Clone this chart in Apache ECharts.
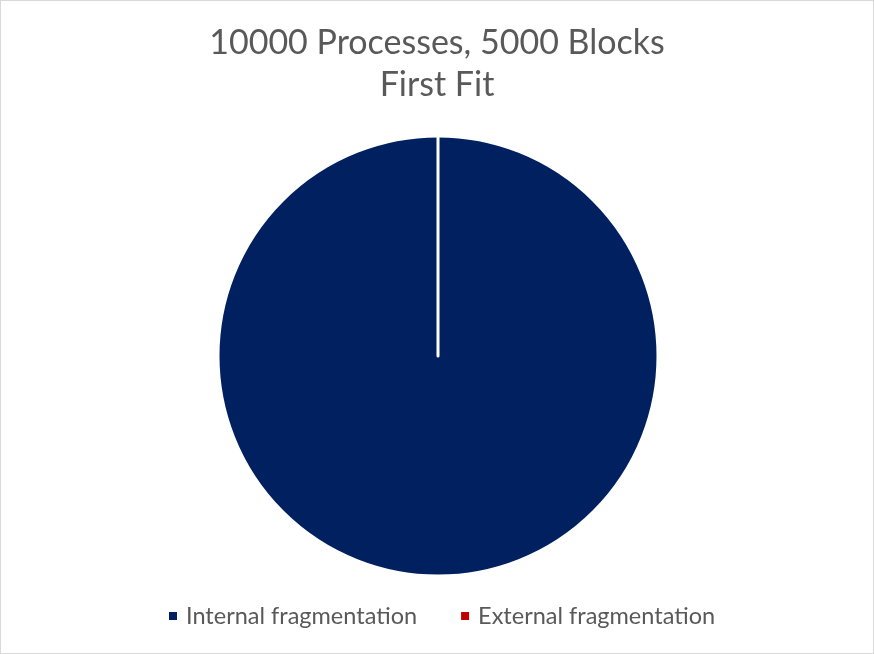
<!DOCTYPE html>
<html><head><meta charset="utf-8">
<script src="https://cdn.jsdelivr.net/npm/echarts@6/dist/echarts.min.js"></script>
<style>html,body{margin:0;padding:0;background:#fff}#c{width:872px;height:652px;border:1px solid #d9d9d9}</style>
</head><body><div id="c"></div>
<script>
const titleLines = ['10000 Processes, 5000 Blocks', 'First Fit'];
const categories = ['Internal fragmentation', 'External fragmentation'];
const values = [100, 0];
const colors = ['#002060', '#c00000'];

const chart = echarts.init(document.getElementById('c'));
chart.setOption({
  animation: false,
  title: {
    text: titleLines.join('\n'),
    left: 'center', top: 16,
    textStyle: {fontFamily: 'Lato', fontWeight: 'normal', fontSize: 34, color: '#595959', lineHeight: 42}
  },
  legend: {
    bottom: 20, left: 161, itemWidth: 10, itemHeight: 10, itemGap: 42,
    icon: 'rect',
    textStyle: {fontFamily: 'Lato', fontSize: 23.5, color: '#595959', padding: [0, 0, 0, 3]},
    data: categories
  },
  series: [{
    type: 'pie', center: [437, 355], radius: 220, startAngle: 90, clockwise: true,
    label: {show: false}, labelLine: {show: false},
    stillShowZeroSum: true,
    itemStyle: {borderColor: '#fff', borderWidth: 3},
    emphasis: {disabled: true},
    data: categories.map((c, i) => ({name: c, value: values[i], itemStyle: {color: colors[i]}}))
  }]
});
</script></body></html>
